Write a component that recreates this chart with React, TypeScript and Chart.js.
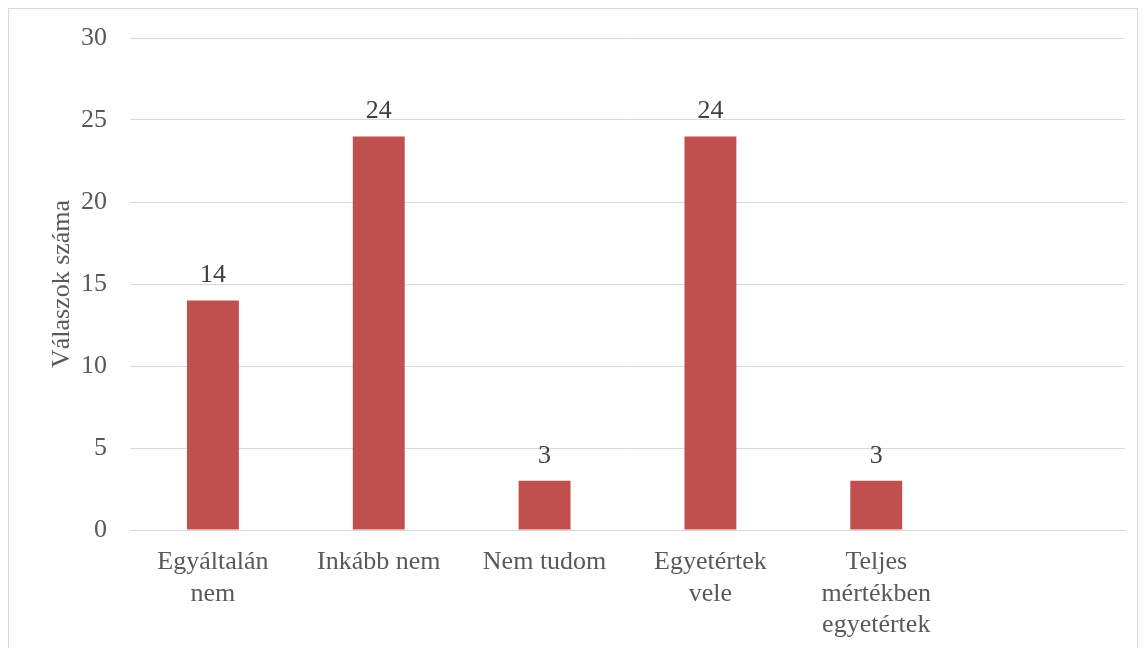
import React, { useEffect, useRef } from "react";
import { Chart, registerables } from "chart.js";

Chart.register(...registerables);

const categories: (string | string[])[] = [
  ["Egyáltalán", "nem"],
  "Inkább nem",
  "Nem tudom",
  ["Egyetértek", "vele"],
  ["Teljes", "mértékben", "egyetértek"],
  "",
];
const values: (number | null)[] = [14, 24, 3, 24, 3, null];
const yTicksMax = 30;
const yTickStep = 5;
const yTitle = "Válaszok száma";

const FONT = "'Liberation Serif', 'Times New Roman', serif";

const dataLabelPlugin = {
  id: "dataLabels",
  afterDatasetsDraw(chart: any) {
    const ctx = chart.ctx;
    const meta = chart.getDatasetMeta(0);
    ctx.save();
    ctx.font = `26px ${FONT}`;
    ctx.fillStyle = "#404040";
    ctx.textAlign = "center";
    ctx.textBaseline = "alphabetic";
    meta.data.forEach((bar: any, i: number) => {
      const v = values[i];
      if (v === null || v === undefined) return;
      ctx.fillText(String(v), bar.x, bar.y - 18);
    });
    ctx.restore();
  },
};

export default function App() {
  const ref = useRef<HTMLCanvasElement>(null);
  useEffect(() => {
    if (!ref.current) return;
    const chart = new Chart(ref.current, {
      type: "bar",
      data: {
        labels: categories,
        datasets: [
          {
            data: values,
            backgroundColor: "#c0504d",
            categoryPercentage: 1,
            barPercentage: 0.313,
          },
        ],
      },
      options: {
        animation: false,
        responsive: false,
        maintainAspectRatio: false,
        layout: { padding: { left: 0, right: 12, top: 29, bottom: 0 } },
        plugins: { legend: { display: false }, tooltip: { enabled: false } },
        scales: {
          x: {
            grid: { display: false },
            border: { display: true, color: "#d9d9d9" },
            ticks: {
              color: "#595959",
              font: { family: FONT, size: 26, lineHeight: 1.2 },
              padding: 9,
              maxRotation: 0,
              autoSkip: false,
            },
            afterFit: (s: any) => {
              s.height = 118;
            },
          },
          y: {
            min: 0,
            max: yTicksMax,
            ticks: {
              stepSize: yTickStep,
              color: "#595959",
              font: { family: FONT, size: 26 },
              padding: 3,
            },
            grid: {
              color: "#d9d9d9",
              drawTicks: true,
              tickLength: 20,
              tickColor: "rgba(0,0,0,0)",
            },
            border: { display: false },
            title: {
              display: true,
              text: yTitle,
              color: "#595959",
              font: { family: FONT, size: 26, lineHeight: 1.2 },
              padding: { top: 38, bottom: 0 },
            },
            afterFit: (s: any) => {
              s.width = 121;
            },
          },
        },
      },
      plugins: [dataLabelPlugin],
    });
    return () => chart.destroy();
  }, []);
  return (
    <div
      style={{
        position: "absolute",
        left: 8,
        top: 8,
        width: 1128,
        height: 660,
        border: "1px solid #d9d9d9",
        background: "#fff",
      }}
    >
      <canvas ref={ref} width={1128} height={639} style={{ display: "block" }} />
    </div>
  );
}
